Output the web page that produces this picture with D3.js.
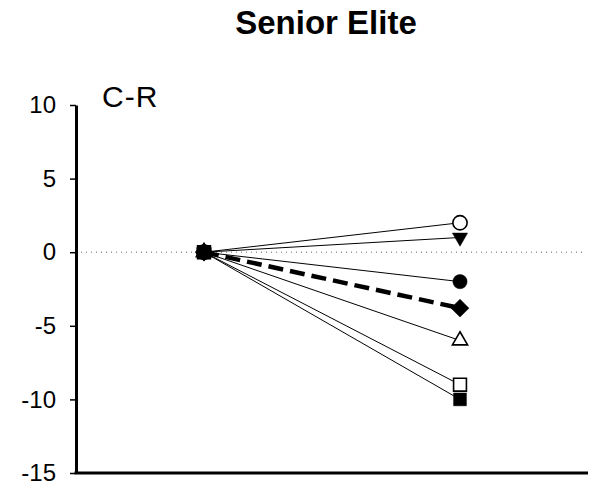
<!DOCTYPE html>
<html>
<head>
<meta charset="utf-8">
<script src="https://cdn.jsdelivr.net/npm/d3@7"></script>
<style>
  html, body { margin: 0; padding: 0; background: #fff; }
  svg { display: block; font-family: "Liberation Sans", Arial, sans-serif; }
</style>
</head>
<body>
<svg id="chart" width="592" height="491"></svg>
<script>
// Change scores (C-R) for senior elite athletes, from the reference session to the test session
const phases = ["Reference", "Test"];
const athletes = ["A1", "A2", "A3", "Mean", "A4", "A5", "A6"];
const startValues = [0, 0, 0, 0, 0, 0, 0];
const endValues = [2, 1, -2, -3.8, -6, -9, -10];
const yTicks = [-15, -10, -5, 0, 5, 10];
const chartTitle = "Senior Elite";
const panelLabel = "C-R";

// Marker style per athlete (symbol, filled or hollow); the mean is drawn dashed
const markerStyle = {
  A1:   { shape: "circle",       filled: false },
  A2:   { shape: "triangleDown", filled: true },
  A3:   { shape: "circle",       filled: true },
  Mean: { shape: "diamond",      filled: true },
  A4:   { shape: "triangle",     filled: false },
  A5:   { shape: "square",       filled: false },
  A6:   { shape: "square",       filled: true }
};

const svg = d3.select("#chart");
const margin = { left: 76, right: 4, top: 105, bottom: 18 };
const W = 592, H = 491;

const x = d3.scalePoint().domain(phases).range([margin.left, W - margin.right]).padding(0.5);
const y = d3.scaleLinear().domain([-15, 10]).range([H - margin.bottom, margin.top]);

// Title
svg.append("text")
  .attr("x", 326).attr("y", 34)
  .attr("text-anchor", "middle")
  .attr("font-size", 33).attr("font-weight", "bold")
  .text(chartTitle);

// Zero reference line
svg.append("line")
  .attr("x1", margin.left).attr("x2", W - 6)
  .attr("y1", y(0)).attr("y2", y(0))
  .attr("stroke", "#666").attr("stroke-width", 1)
  .attr("stroke-dasharray", "1,4");

// Y axis (plain hyphen for negative numbers)
const yAxis = svg.append("g")
  .attr("transform", `translate(${margin.left},0)`)
  .call(d3.axisLeft(y).tickValues(yTicks).tickFormat(d => String(d))
    .tickSize(6).tickPadding(14).tickSizeOuter(0));
yAxis.select(".domain").attr("stroke", "#000").attr("stroke-width", 3);
yAxis.selectAll(".tick line").attr("stroke", "#000").attr("stroke-width", 1.5);
yAxis.selectAll(".tick text")
  .attr("font-size", 24)
  .attr("font-family", "Liberation Sans, Arial, sans-serif")
  .attr("fill", "#000");

// X axis (no tick labels)
svg.append("line")
  .attr("x1", margin.left - 1.5).attr("x2", W - margin.right)
  .attr("y1", y(-15)).attr("y2", y(-15))
  .attr("stroke", "#000").attr("stroke-width", 3);

// Panel label
svg.append("text")
  .attr("x", 102).attr("y", 107)
  .attr("font-size", 30)
  .attr("letter-spacing", 1)
  .text(panelLabel);

// Series data
const series = athletes.map((name, i) => ({
  name,
  values: [
    { phase: phases[0], v: startValues[i] },
    { phase: phases[1], v: endValues[i] }
  ]
}));

const line = d3.line().x(d => x(d.phase)).y(d => y(d.v));

// Connecting lines
svg.append("g").selectAll("path")
  .data(series)
  .join("path")
  .attr("d", d => line(d.values))
  .attr("fill", "none")
  .attr("stroke", "#000")
  .attr("stroke-width", d => d.name === "Mean" ? 4.5 : 1)
  .attr("stroke-dasharray", d => d.name === "Mean" ? "15,7" : null);

// Marker geometry
const symbolSpec = {
  circle:       { type: d3.symbolCircle,   size: 160, rotate: 0 },
  square:       { type: d3.symbolSquare,   size: 165, rotate: 0 },
  diamond:      { type: d3.symbolSquare,   size: 160, rotate: 45 },
  triangle:     { type: d3.symbolTriangle, size: 100, rotate: 0 },
  triangleDown: { type: d3.symbolTriangle, size: 100, rotate: 180 }
};

const points = [];
series.forEach(s => s.values.forEach(p => points.push({ name: s.name, phase: p.phase, v: p.v })));
// Hollow markers first so filled ones sit on top at the shared start point
points.sort((a, b) => markerStyle[a.name].filled - markerStyle[b.name].filled);

svg.append("g").selectAll("path")
  .data(points)
  .join("path")
  .attr("d", d => {
    const spec = symbolSpec[markerStyle[d.name].shape];
    return d3.symbol().type(spec.type).size(spec.size)();
  })
  .attr("transform", d => {
    const spec = symbolSpec[markerStyle[d.name].shape];
    return `translate(${x(d.phase)},${y(d.v)}) rotate(${spec.rotate})`;
  })
  .attr("fill", d => markerStyle[d.name].filled ? "#000" : "#fff")
  .attr("stroke", "#000")
  .attr("stroke-width", d => markerStyle[d.name].filled ? 0.5 : 1.6);
</script>
</body>
</html>
